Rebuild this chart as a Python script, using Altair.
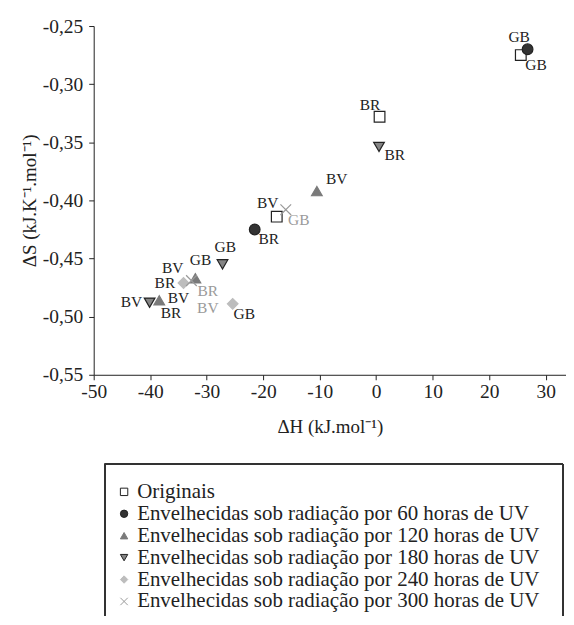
import altair as alt
import pandas as pd

series_names = [
    "Originais",
    "Envelhecidas sob radiação por 60 horas de UV",
    "Envelhecidas sob radiação por 120 horas de UV",
    "Envelhecidas sob radiação por 180 horas de UV",
    "Envelhecidas sob radiação por 240 horas de UV",
    "Envelhecidas sob radiação por 300 horas de UV",
]

# (amostra, dH, dS) per series
orig_amostra = ["GB", "BR", "BV"]
orig_dH = [25.6, 0.6, -17.6]
orig_dS = [-0.275, -0.328, -0.414]

h60_amostra = ["GB", "BR"]
h60_dH = [26.8, -21.5]
h60_dS = [-0.270, -0.425]

h120_amostra = ["BV", "GB", "BR"]
h120_dH = [-10.5, -32.0, -38.4]
h120_dS = [-0.392, -0.467, -0.486]

h180_amostra = ["BR", "GB", "BV"]
h180_dH = [0.5, -27.2, -40.1]
h180_dS = [-0.354, -0.455, -0.488]

h240_amostra = ["GB", "BR"]
h240_dH = [-25.4, -34.1]
h240_dS = [-0.489, -0.471]

h300_amostra = ["GB", "BR"]
h300_dH = [-16.0, -32.7]
h300_dS = [-0.408, -0.469]

# annotation labels (data coordinates)
rot_text = ["GB", "GB", "BR", "BR", "BV", "BV", "BR", "GB", "GB", "BV", "BR", "BV", "BV", "BR", "GB"]
rot_dH = [25.3, 28.3, -1.1, 3.3, -7.0, -19.2, -19.0, -26.7, -31.1, -36.0, -37.4, -43.3, -35.0, -36.3, -23.35]
rot_dS = [-0.2594, -0.2834, -0.3177, -0.3606, -0.382, -0.4025, -0.4334, -0.440, -0.4514, -0.458, -0.4708, -0.487, -0.4837, -0.4966, -0.498]

rotc_text = ["GB", "BR", "BV"]
rotc_dH = [-13.7, -29.8, -29.8]
rotc_dS = [-0.4166, -0.478, -0.4923]

x_ticks = [-50, -45, -40, -35, -30, -25, -20, -15, -10, -5, 0, 5, 10, 15, 20, 25, 30]
y_ticks = [-0.55, -0.525, -0.5, -0.475, -0.45, -0.425, -0.4, -0.375, -0.35, -0.325, -0.3, -0.275, -0.25]

rows = []
for name, am, xs_, ys_ in [
    (series_names[0], orig_amostra, orig_dH, orig_dS),
    (series_names[1], h60_amostra, h60_dH, h60_dS),
    (series_names[2], h120_amostra, h120_dH, h120_dS),
    (series_names[3], h180_amostra, h180_dH, h180_dS),
    (series_names[4], h240_amostra, h240_dH, h240_dS),
    (series_names[5], h300_amostra, h300_dH, h300_dS),
]:
    for a, x, y in zip(am, xs_, ys_):
        rows.append({"serie": name, "amostra": a, "dH": x, "dS": y})
df = pd.DataFrame(rows)

lab = pd.DataFrame({"t": rot_text, "dH": rot_dH, "dS": rot_dS})
labc = pd.DataFrame({"t": rotc_text, "dH": rotc_dH, "dS": rotc_dS})

FONT = "Liberation Serif"
cross = "M-1,-1L1,1M-1,1L1,-1"

xs = alt.Scale(domain=[-50, 33.6], nice=False, zero=False)
ys = alt.Scale(domain=[-0.55, -0.25], nice=False, zero=False)

x_enc = alt.X("dH:Q", scale=xs, title="ΔH (kJ.mol⁻¹)",
              axis=alt.Axis(values=x_ticks, labelFlush=False, labelOverlap=False,
                            labelExpr="datum.value % 10 === 0 ? (datum.value < 0 ? '-' : '') + format(abs(datum.value), 'd') : ''",
                            titlePadding=16, labelPadding=3))
y_enc = alt.Y("dS:Q", scale=ys, title="ΔS (kJ.K⁻¹.mol⁻¹)",
              axis=alt.Axis(values=y_ticks, labelFlush=False, labelOverlap=False,
                            labelExpr="abs(round(datum.value*1000)) % 50 === 0 ? (datum.value < 0 ? '-' : '') + replace(format(abs(datum.value), '.2f'), '.', ',') : ''",
                            titlePadding=3, labelPadding=6))

legend = alt.Legend(title=None, orient="none", legendX=20, legendY=457,
                    labelFont=FONT, labelFontSize=21, labelColor="#222",
                    labelLimit=0, rowPadding=0, labelOffset=2.6,
                    symbolSize=55, symbolStrokeWidth=1)

points = alt.Chart(df).mark_point(size=115, opacity=1, strokeWidth=1.2).encode(
    x=x_enc, y=y_enc,
    shape=alt.Shape("serie:N", scale=alt.Scale(domain=series_names,
                    range=["square", "circle", "triangle-up", "triangle-down", "diamond", cross]),
                    legend=legend),
    fill=alt.Fill("serie:N", scale=alt.Scale(domain=series_names,
                  range=["white", "#333333", "#7a7a7a", "#858585", "#bdbdbd", "#9a9a9a"]),
                  legend=legend),
    stroke=alt.Stroke("serie:N", scale=alt.Scale(domain=series_names,
                      range=["#222222", "#222222", "#7a7a7a", "#222222", "#bdbdbd", "#9a9a9a"]),
                      legend=legend),
)

labels = alt.Chart(lab).mark_text(font=FONT, fontSize=15.5, color="#222", baseline="middle").encode(
    x=alt.X("dH:Q", scale=xs), y=alt.Y("dS:Q", scale=ys), text="t:N")
labels_c = alt.Chart(labc).mark_text(font=FONT, fontSize=15.5, color="#9a9a9a", baseline="middle").encode(
    x=alt.X("dH:Q", scale=xs), y=alt.Y("dS:Q", scale=ys), text="t:N")

frame_top = alt.Chart(df).mark_rule(color="#333", strokeWidth=1.2).encode(
    x=alt.value(11), x2=alt.value(471), y=alt.value(440))
frame_left = alt.Chart(df).mark_rule(color="#333", strokeWidth=1.2).encode(
    x=alt.value(11), y=alt.value(440), y2=alt.value(592))
frame_right = alt.Chart(df).mark_rule(color="#333", strokeWidth=1.2).encode(
    x=alt.value(471), y=alt.value(440), y2=alt.value(592))

chart = alt.layer(frame_top, frame_left, frame_right, points, labels, labels_c).properties(
    width=474, height=350,
    padding={"left": 12, "top": 7, "right": 0, "bottom": 0},
).configure_view(stroke=None).configure_axis(
    grid=False, labelFont=FONT, labelFontSize=19.5, titleFont=FONT, titleFontSize=19,
    titleFontWeight="normal", domainColor="#222", tickColor="#222", tickSize=5,
    labelColor="#222", titleColor="#222",
)

chart.save("out.html", embed_options={"renderer": "svg", "actions": False})
